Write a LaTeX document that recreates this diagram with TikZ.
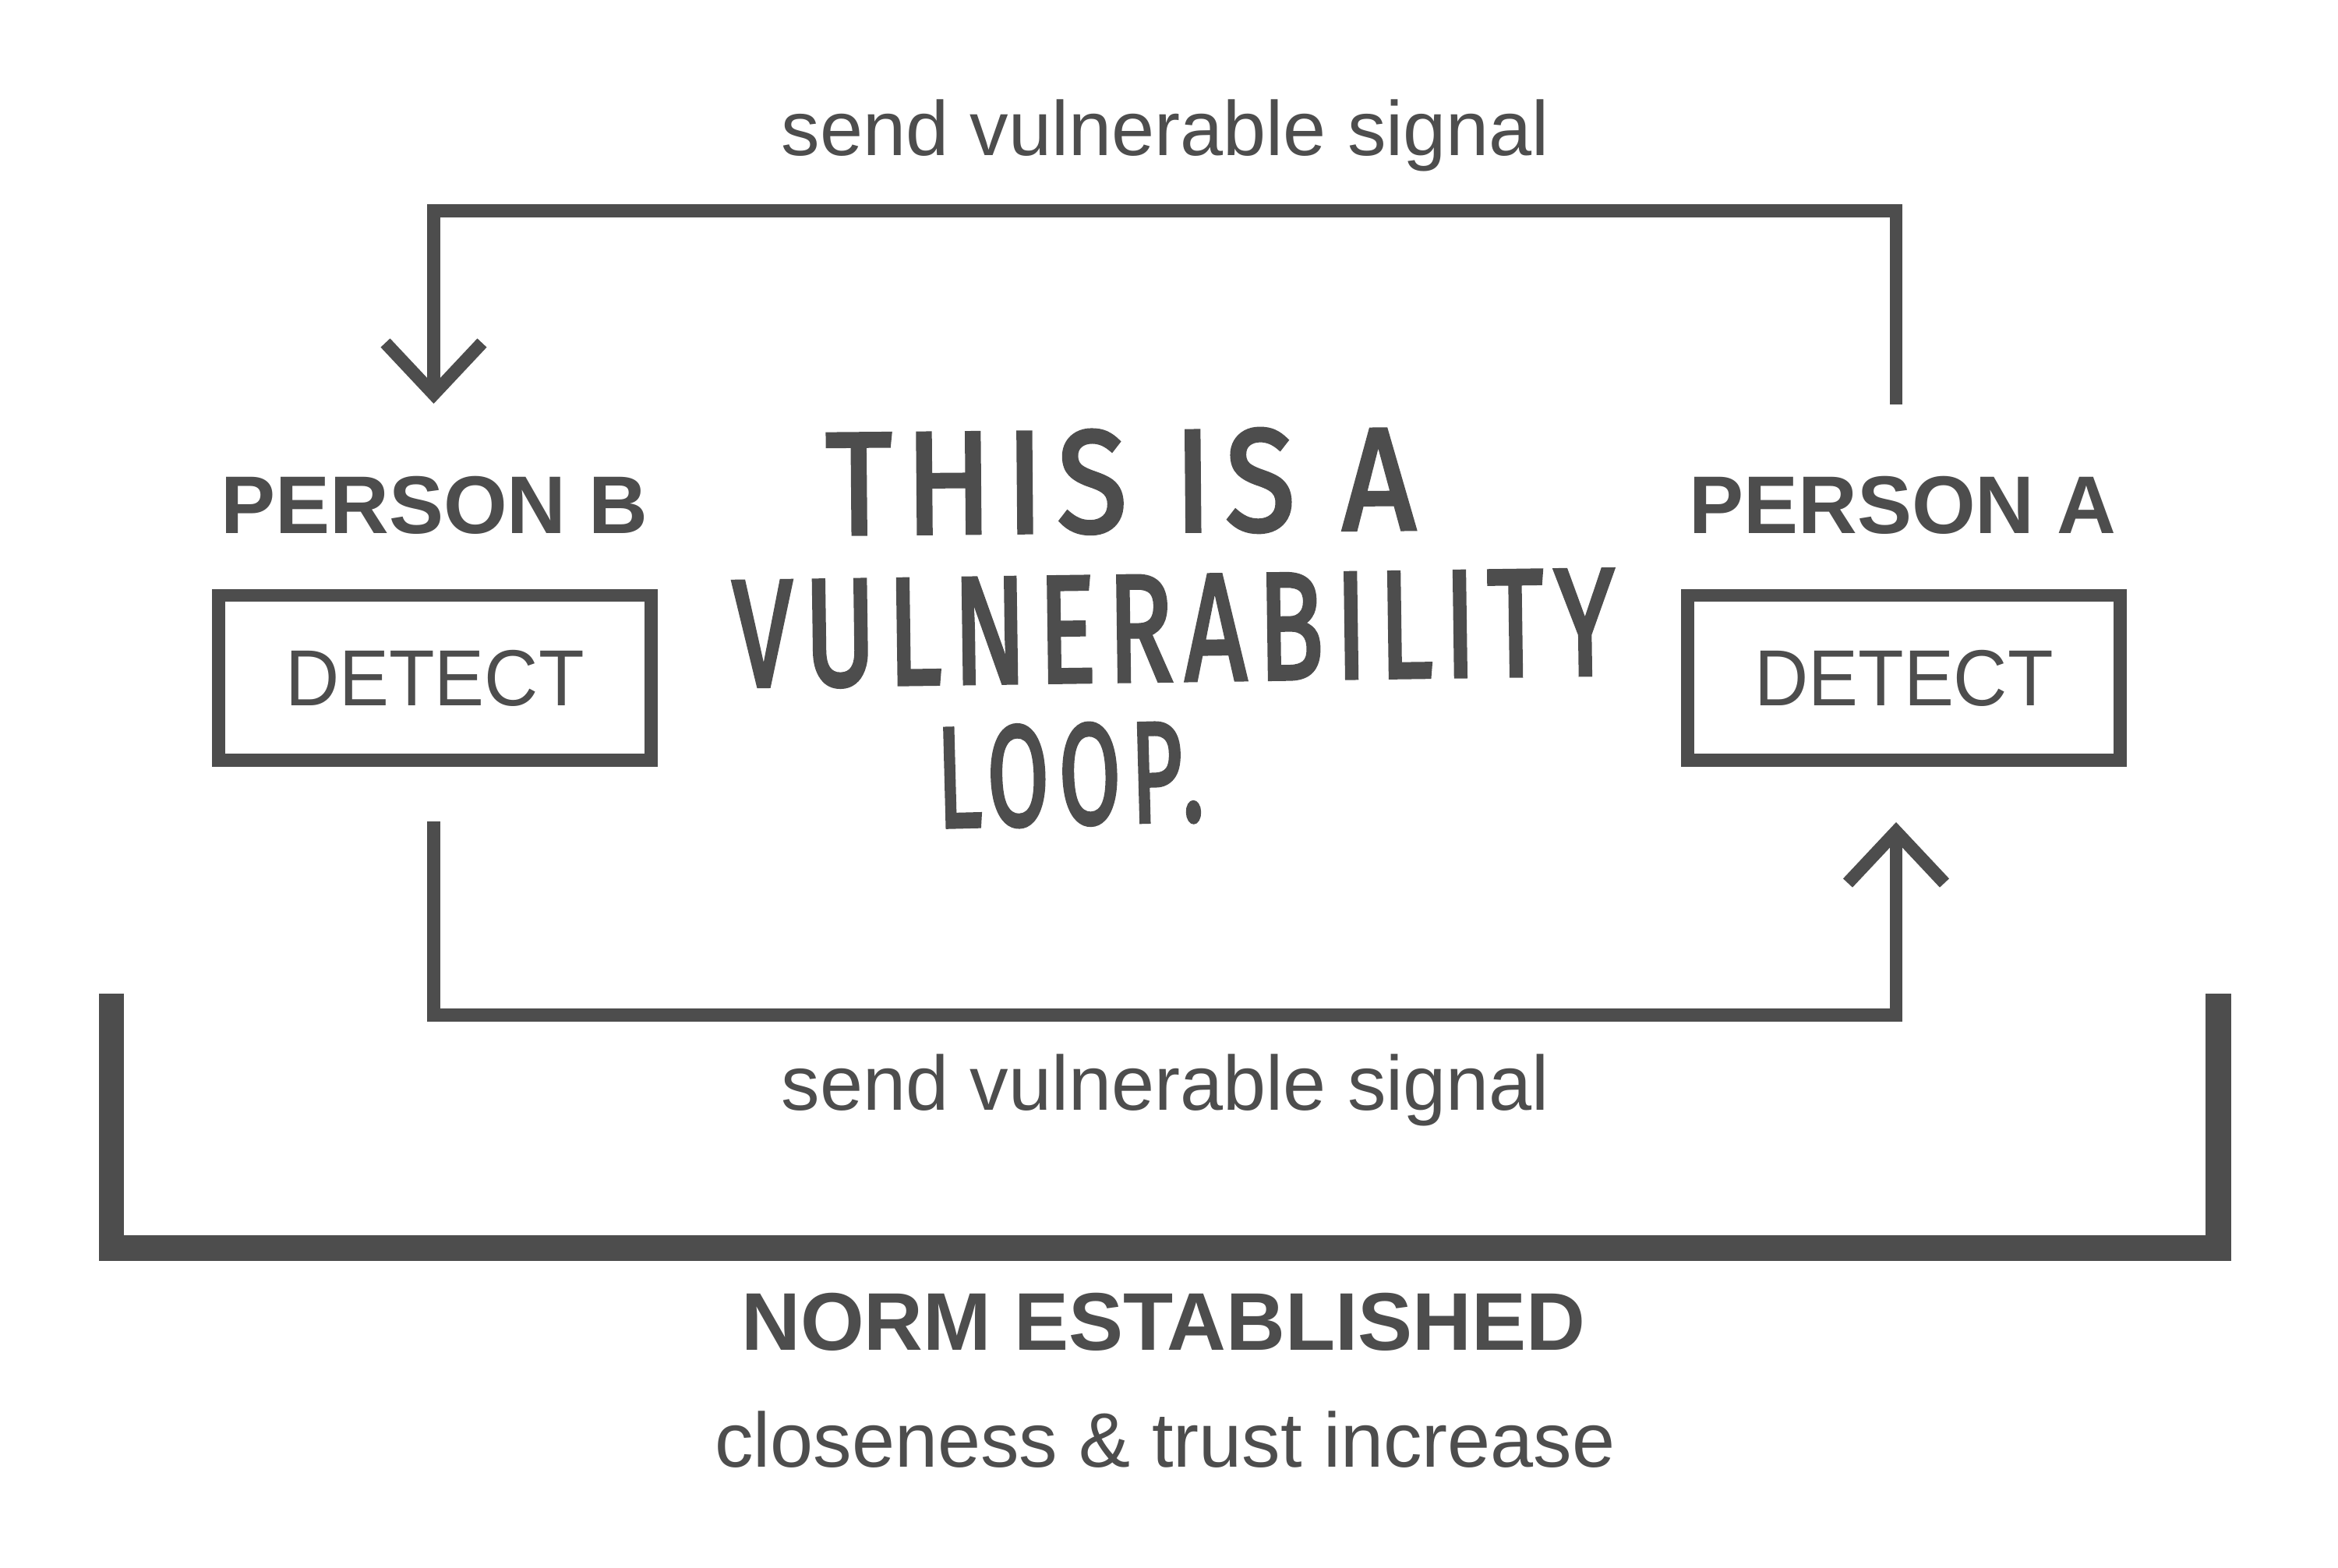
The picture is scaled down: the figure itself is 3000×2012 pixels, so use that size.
\documentclass[tikz,border=0pt]{standalone}
\usepackage{graphicx}
\usepackage{fontspec}
\setmainfont{Liberation Sans}
\newfontfamily\detectfont{Liberation Sans}[FakeStretch=0.94]
\newfontfamily\handfont{Fira Sans}[LetterSpace=11, FakeBold=3]
\usetikzlibrary{arrows.meta}
\definecolor{ink}{HTML}{4D4D4D}
\tikzset{
  conn/.style={draw=ink, line width=1.65pt, line join=miter, line cap=butt},
  barb/.style={-{Straight Barb[length=6.6pt,width=12.4pt]}},
  bracket/.style={draw=ink, line width=3.3pt, line join=miter, line cap=butt},
  detectbox/.style={draw=ink, line width=1.65pt, minimum width=55.55pt, minimum height=21.15pt,
    inner sep=0pt, text=ink, font=\detectfont\fontsize{10.2pt}{12pt}\selectfont},
  boldlab/.style={inner sep=0pt, text=ink, anchor=base, font=\bfseries\fontsize{10.5pt}{12pt}\selectfont},
  plainlab/.style={inner sep=0pt, text=ink, anchor=base, font=\fontsize{9.9pt}{12pt}\selectfont},
  hand/.style={inner sep=0pt, text=ink, font=\handfont}
}
\begin{document}
\begin{tikzpicture}[x=0.1pt, y=-0.1pt]
  \useasboundingbox[fill=white] (0,0) rectangle (3000,2012);

  % labels and boxes
  \node[boldlab] (labB) at (557.5,684.5) {PERSON B};
  \node[boldlab] (labA) at (2441.5,684.5) {PERSON A};
  \node[detectbox] (boxB) at (558,870) {DETECT};
  \node[detectbox] (boxA) at (2443,870) {DETECT};

  % handwritten title
  \node[hand, rotate=0.5] (t1) at (1438,618) {\resizebox{75.6pt}{13.0pt}{THIS IS A}};
  \node[hand, rotate=0.8] (t2) at (1506,807) {\resizebox{113.1pt}{13.4pt}{VULNERABILITY}};
  \node[hand, rotate=1.5] (t3) at (1373,994) {\resizebox{34.2pt}{12.8pt}{LOOP.}};

  % signal texts
  \node[plainlab] (sigTop) at (1495.5,200) {send vulnerable signal};
  \node[plainlab] (sigBot) at (1495.5,1425) {send vulnerable signal};
  \node[boldlab] (norm) at (1493,1733) {NORM ESTABLISHED};
  \node[plainlab] (close) at (1495,1883) {closeness \& trust increase};

  % connector end points
  \coordinate (aOut) at (2433,519);
  \coordinate (bIn) at (556.5,518);
  \coordinate (topY) at (0,270.5);
  \coordinate (bOut) at (556.5,1054);
  \coordinate (aIn) at (2433,1055);
  \coordinate (botY) at (0,1302.5);
  \coordinate (brL) at (143,1275);
  \coordinate (brR) at (2846.5,1275);
  \coordinate (brY) at (0,1601.5);

  % loop connectors
  \draw[conn,barb] (aOut) -- (aOut |- topY) -- (bIn |- topY) -- (bIn);
  \draw[conn,barb] (bOut) -- (bOut |- botY) -- (aIn |- botY) -- (aIn);

  % norm bracket
  \draw[bracket] (brL) -- (brL |- brY) -- (brR |- brY) -- (brR);
\end{tikzpicture}
\end{document}
